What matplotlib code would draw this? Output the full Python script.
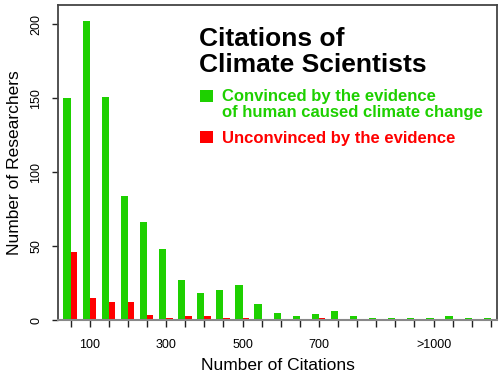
import matplotlib
matplotlib.use("Agg")
import matplotlib.pyplot as plt
from matplotlib.patches import Rectangle
import numpy as np

plt.rcParams['font.family'] = ['Liberation Sans', 'DejaVu Sans']

# bins of 50 citations, one group per bin
convinced = [150, 202, 151, 84, 66, 48, 27, 18, 20, 24, 11, 5, 3, 4, 6, 3, 1.5, 1.5, 1.5, 1.5, 3, 1.5, 1.5]
unconvinced = [46, 15, 12, 12, 3.5, 1.5, 3, 3, 1.5, 1.5, 0, 0, 0, 1.5, 0, 0, 0, 0, 0, 0, 0, 0, 0]
tick_labels = {1: "100", 5: "300", 9: "500", 13: "700", 19: ">1000"}

green = "#1ed000"
red = "#ff0000"

W, H = 500, 377
fig = plt.figure(figsize=(5, 3.77), dpi=100)
ax = fig.add_axes([58 / W, (H - 320) / H, (497 - 58) / W, 315 / H])

x = np.arange(len(convinced))
# green bar sits left of the tick, red right of it
ax.bar(x - 0.38, convinced, width=0.38, align="edge", color=green, edgecolor="none")
ax.bar(x, unconvinced, width=0.33, align="edge", color=red, edgecolor="none")

ax.set_xlim(-0.665, 22.32)
ax.set_ylim(0, 213)

ax.set_xticks(x)
ax.set_xticklabels([tick_labels.get(k, "") for k in x], fontsize=9)
ax.set_yticks([0, 50, 100, 150, 200])
ax.set_yticklabels(["0", "50", "100", "150", "200"], rotation=90, va="center", fontsize=9)
ax.tick_params(axis="x", length=5, width=1.0, pad=9, color="#222222")
ax.tick_params(axis="y", length=4.5, width=1.0, pad=7, color="#222222")

for s in ["left", "top", "right"]:
    ax.spines[s].set_color("#444444")
    ax.spines[s].set_linewidth(1.3)
ax.spines["bottom"].set_color("#888888")
ax.spines["bottom"].set_linewidth(1.5)

ax.set_xlabel("Number of Citations", fontsize=12.5, labelpad=5)
ax.set_ylabel("Number of Researchers", fontsize=12.5, labelpad=6)

def fy(py):
    return (H - py) / H

fig.text(199 / W, fy(46.5), "Citations of", fontsize=19, fontweight="bold", va="baseline")
fig.text(199 / W, fy(71.5), "Climate Scientists", fontsize=19, fontweight="bold", va="baseline")

fig.patches.append(Rectangle((200 / W, fy(101.5)), 13 / W, 11.5 / H, transform=fig.transFigure,
                             facecolor=green, edgecolor="none"))
fig.patches.append(Rectangle((200 / W, fy(143)), 13 / W, 11.5 / H, transform=fig.transFigure,
                             facecolor=red, edgecolor="none"))
fig.text(222 / W, fy(101.5), "Convinced by the evidence", fontsize=12, fontweight="bold",
         color=green, va="baseline")
fig.text(222 / W, fy(117), "of human caused climate change", fontsize=12, fontweight="bold",
         color=green, va="baseline")
fig.text(222 / W, fy(143), "Unconvinced by the evidence", fontsize=12, fontweight="bold",
         color=red, va="baseline")

fig.savefig("out.png", dpi=100)
